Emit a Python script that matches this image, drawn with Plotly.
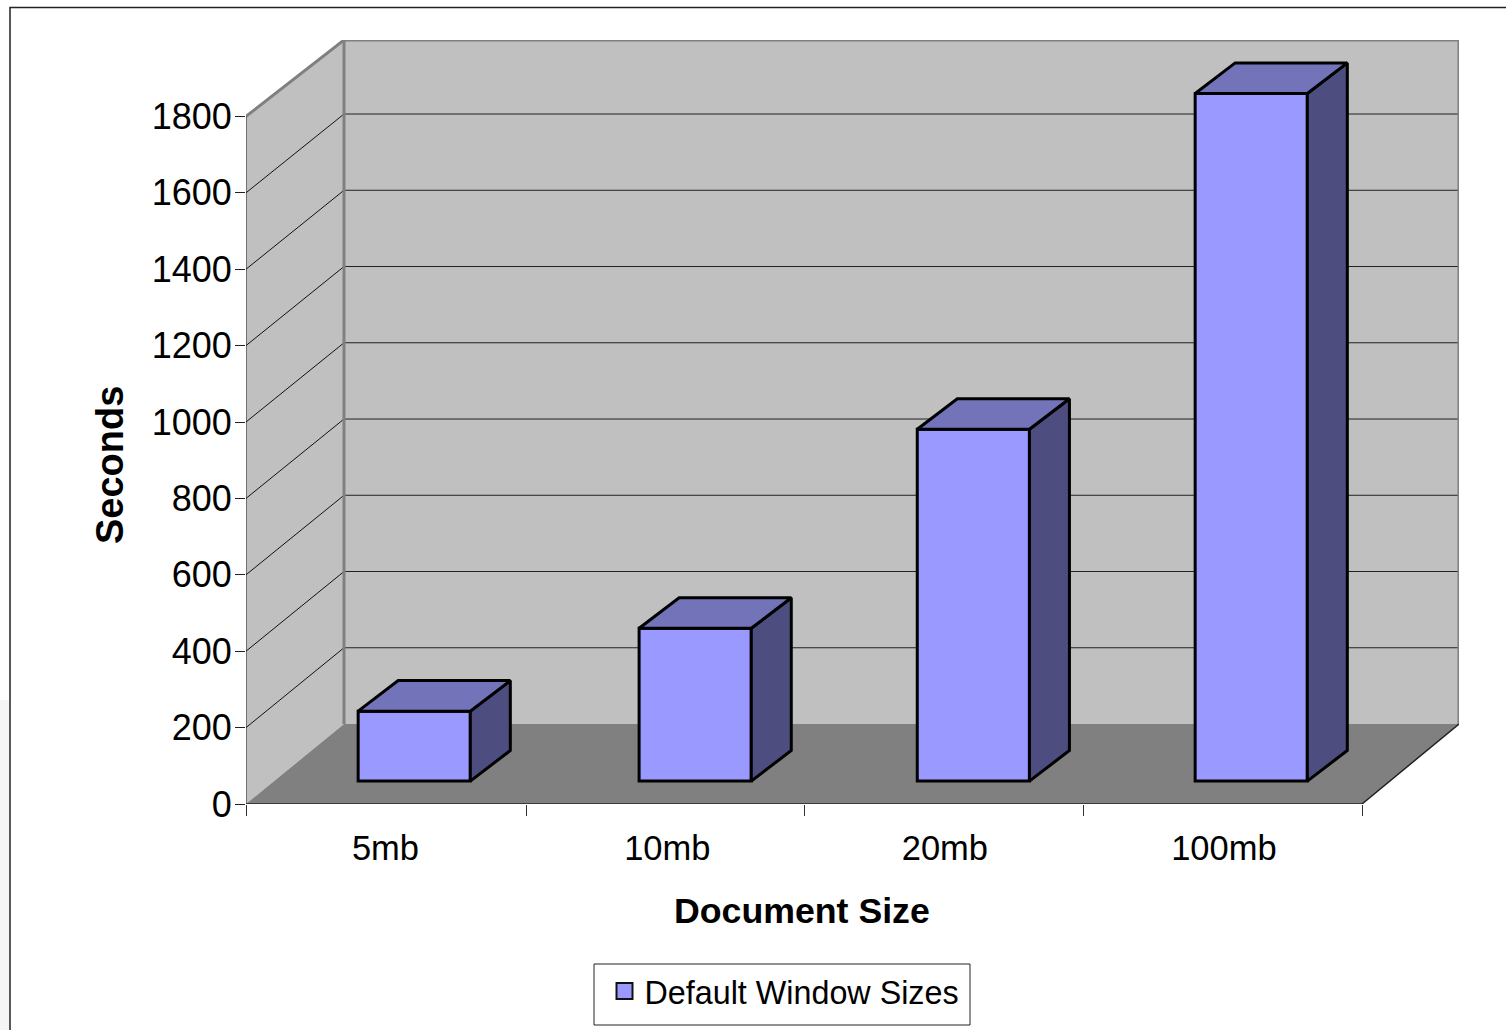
import plotly.graph_objects as go

# ---- data ----
categories = ["5mb", "10mb", "20mb", "100mb"]
seconds = [183, 400, 921, 1800]
y_ticks = [0, 200, 400, 600, 800, 1000, 1200, 1400, 1600, 1800]
series_name = "Default Window Sizes"

# ---- layout constants (pixels on the 1506x1030 page) ----
W, H = 1506, 1030
PX_L, PX_R, PX_T, PX_B = 246, 1459, 40, 804
Y_MAX = 2000
X_MAX = (PX_R - PX_L) / 279.0
x_boundaries = [0, 1.007, 2.003, 3.0, 4.0]
x_label_pos = [0.5, 1.51, 2.505, 3.505]
bar_lefts = [0.402, 1.409, 2.406, 3.402]

# ---- pseudo-3D depth, in axis units ----
WALL_DX = 98 / 279.0
WALL_DY = 209.4
BACK_SCALE = 0.998
BAR_W = 0.402
BAR_BASE = 60
BAR_DX = 40 / 279.0
BAR_DY = 80

FONT = "Liberation Sans"
GREY = "#808080"
WALL = "#C0C0C0"
FRONT = "#9999FF"
SIDE = "#4D4D80"
TOP = "#7373B9"


def back(v):
    return WALL_DY + v * BACK_SCALE


def px(x):
    return x / W


def py(y):
    return 1 - y / H


n = len(categories)
fig = go.Figure()


def wall(xs, ys, fill):
    fig.add_trace(go.Scatter(x=xs, y=ys, mode="lines", fill="toself", fillcolor=fill,
                             line=dict(width=0), hoverinfo="skip", showlegend=False,
                             cliponaxis=False))


def strokes(xs, ys, color, width):
    fig.add_trace(go.Scatter(x=xs, y=ys, mode="lines", line=dict(color=color, width=width),
                             hoverinfo="skip", showlegend=False, cliponaxis=False,
                             connectgaps=False))


# walls and floor
top_v = y_ticks[-1]
wall([WALL_DX, X_MAX, X_MAX, WALL_DX], [back(0), back(0), Y_MAX, Y_MAX], WALL)
wall([0, 0, WALL_DX, WALL_DX], [0, top_v, Y_MAX, back(0)], WALL)
wall([0, n, X_MAX, WALL_DX], [0, 0, back(0), back(0)], GREY)

# grid: back wall horizontals and left wall diagonals
gx, gy, dx, dy = [], [], [], []
for v in y_ticks[1:-1]:
    gx += [WALL_DX, X_MAX, None]
    gy += [back(v), back(v), None]
    dx += [0, WALL_DX, None]
    dy += [v, back(v), None]
strokes(gx, gy, "#222222", 1)
strokes(dx, dy, "#111111", 1)

# wall edges
strokes([0, WALL_DX, X_MAX, X_MAX], [top_v, Y_MAX, Y_MAX, back(0)], GREY, 3)
strokes([WALL_DX, WALL_DX], [Y_MAX, back(0)], GREY, 3)
strokes([0, 0], [0, top_v], "#222222", 1)
strokes([0, n, X_MAX], [0, 0, back(0)], "#222222", 1.5)

# bars: front face through the bar trace, sides and tops derived from the same values
xpos = [x + BAR_W / 2 for x in bar_lefts]
fig.add_trace(go.Bar(x=xpos, y=seconds, base=BAR_BASE, width=BAR_W, xaxis="x2", yaxis="y2",
                     marker=dict(color=FRONT, line=dict(color="black", width=3)),
                     name=series_name, showlegend=False, hoverinfo="y"))
for x0, v in zip(bar_lefts, seconds):
    x1 = x0 + BAR_W
    b = BAR_BASE
    t = BAR_BASE + v
    fig.add_trace(go.Scatter(
        x=[x1, x1 + BAR_DX, x1 + BAR_DX, x1, x1], y=[b, b + BAR_DY, t + BAR_DY, t, b],
        mode="lines", fill="toself", fillcolor=SIDE, line=dict(color="black", width=3),
        xaxis="x2", yaxis="y2", hoverinfo="skip", showlegend=False, cliponaxis=False))
    fig.add_trace(go.Scatter(
        x=[x0, x0 + BAR_DX, x1 + BAR_DX, x1, x0], y=[t, t + BAR_DY, t + BAR_DY, t, t],
        mode="lines", fill="toself", fillcolor=TOP, line=dict(color="black", width=3),
        xaxis="x2", yaxis="y2", hoverinfo="skip", showlegend=False, cliponaxis=False))

# legend entry with the reference's larger swatch
fig.add_trace(go.Scatter(x=[None], y=[None], mode="markers", name=series_name,
                         xaxis="x2", yaxis="y2",
                         marker=dict(symbol="square", size=16, color=FRONT,
                                     line=dict(color="#111111", width=2))))

dom_x = [px(PX_L), px(PX_R)]
dom_y = [py(PX_B), py(PX_T)]
fig.update_layout(
    width=W, height=H, margin=dict(l=0, r=0, t=0, b=0, autoexpand=False),
    paper_bgcolor="white", plot_bgcolor="rgba(0,0,0,0)",
    font=dict(family=FONT, color="black", size=35),
    barmode="overlay",
    xaxis=dict(domain=dom_x, range=[0, X_MAX], tickmode="array",
               tickvals=x_label_pos, ticktext=categories,
               ticks="outside", ticklen=14, tickcolor="rgba(0,0,0,0)",
               showgrid=False, zeroline=False, showline=False,
               tickfont=dict(size=34.5, family=FONT)),
    yaxis=dict(domain=dom_y, range=[0, Y_MAX], tickmode="array", tickvals=y_ticks,
               ticks="outside", ticklen=10, tickwidth=1, tickcolor="#222222",
               showgrid=False, zeroline=False, showline=False, ticklabelstandoff=-4,
               tickfont=dict(size=36, family=FONT)),
    xaxis2=dict(domain=dom_x, range=[0, X_MAX], overlaying="x", anchor="y2",
                tickmode="array", tickvals=x_boundaries, ticktext=[""] * (n + 1),
                ticks="outside", ticklen=11, tickwidth=1, tickcolor="#333333",
                showgrid=False, zeroline=False, showline=False),
    yaxis2=dict(domain=dom_y, range=[0, Y_MAX], overlaying="y", anchor="x2",
                showticklabels=False, ticks="", showgrid=False, zeroline=False, showline=False),
    legend=dict(x=px(604.5), y=py(991), xanchor="left", yanchor="middle",
                bgcolor="rgba(0,0,0,0)", borderwidth=0,
                font=dict(size=32.3, family=FONT)),
    annotations=[
        dict(text="<b>Document Size</b>", xref="paper", yref="paper", x=px(802), y=py(911),
             xanchor="center", yanchor="middle", showarrow=False,
             font=dict(size=35.7, family=FONT)),
        dict(text="<b>Seconds</b>", xref="paper", yref="paper", x=px(110), y=py(465),
             xanchor="center", yanchor="middle", showarrow=False, textangle=-90,
             font=dict(size=38, family=FONT)),
    ],
    shapes=[
        dict(type="rect", xref="paper", yref="paper", x0=0, x1=px(9), y0=py(1030), y1=py(700),
             fillcolor="#F5F5F5", line=dict(width=0), layer="below"),
        dict(type="path", xref="paper", yref="paper",
             path=f"M {px(10)} {py(1030)} L {px(10)} {py(7.5)} L 1 {py(7.5)}",
             line=dict(color="#222222", width=1.5), layer="below"),
        dict(type="rect", xref="paper", yref="paper", x0=px(594), x1=px(970),
             y0=py(1025), y1=py(964), fillcolor="white",
             line=dict(color="#222222", width=1), layer="above"),
    ],
)

fig.write_html("out.html", config=dict(displayModeBar=False),
               post_script="document.body.style.margin='0';")
